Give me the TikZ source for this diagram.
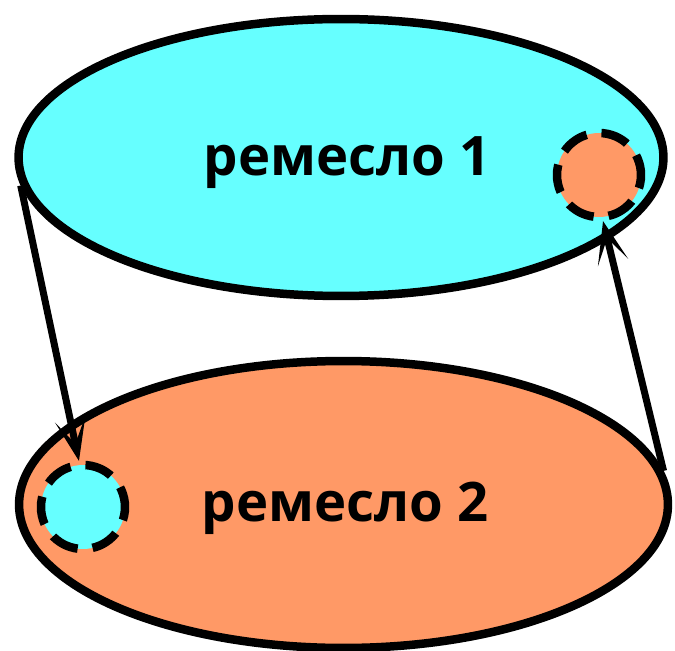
\documentclass[tikz,border=0pt]{standalone}
\usepackage{fontspec}
\newfontfamily\craftfont{Open Sans}
\usepackage{tikz}
\usetikzlibrary{shapes.geometric,arrows.meta,positioning}
\usepackage{xcolor}
\definecolor{craftcyan}{RGB}{102,255,255}
\definecolor{craftorange}{RGB}{255,153,102}

\tikzset{
    craft/.style={ellipse, draw=black, line width=0.17cm, inner sep=0pt},
    spot/.style={circle, draw=black, line width=0.17cm, dash pattern=on 0.56cm off 0.3cm, dash phase=0.15cm, minimum size=1.68cm, inner sep=0pt},
    craftlabel/.style={font=\craftfont\bfseries\fontsize{31}{36}\selectfont},
    transfer/.style={line width=0.14cm, -{Stealth[length=0.85cm, width=0.62cm, inset=0.5cm]}}
}

\begin{document}
\begin{tikzpicture}[x=0.02cm, y=-0.02cm]
    \useasboundingbox (0,0) rectangle (675,651);

    \node[craft, fill=craftcyan, minimum width=12.9cm, minimum height=5.54cm] (top) at (341,157.5) {};
    \node[craft, fill=craftorange, minimum width=12.98cm, minimum height=5.74cm] (bottom) at (343.5,504.5) {};

    \node[spot, fill=craftorange] (spot1) at (599,175) {};
    \node[spot, fill=craftcyan] (spot2) at (83,507) {};

    \node[craftlabel] (name1) at (347,163) {ремесло 1};
    \node[craftlabel] (name2) at (345,508) {ремесло 2};

    \draw[transfer] (top.185) -- (spot2.95);
    \draw[transfer] (bottom.6) -- (spot1.-85);
\end{tikzpicture}
\end{document}
